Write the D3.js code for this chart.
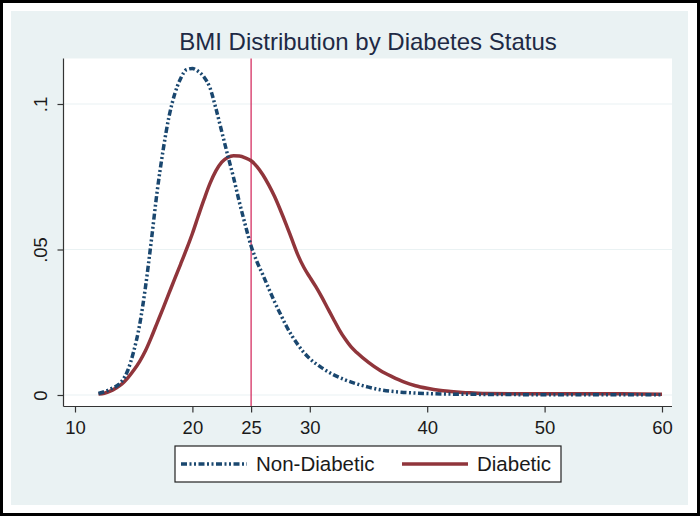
<!DOCTYPE html>
<html>
<head>
<meta charset="utf-8">
<script src="https://cdn.jsdelivr.net/npm/d3@7"></script>
<style>
  html, body { margin: 0; padding: 0; background: #ffffff; }
  svg { display: block; }
  text { font-family: "Liberation Sans", Arial, sans-serif; }
</style>
</head>
<body>
<svg id="chart" width="700" height="516"></svg>
<script>
// ---- data ----
const titleText = "BMI Distribution by Diabetes Status";
const seriesNames = ["Non-Diabetic", "Diabetic"];

const bmiNonDiabetic = [12, 13, 14, 14.5, 15, 15.5, 16, 16.5, 17, 17.5, 18, 18.5, 19, 19.5, 20, 20.5, 21, 21.5, 22, 22.5, 23, 23.5, 24, 24.5, 25, 25.5, 26, 26.5, 27, 27.5, 28, 28.5, 29, 29.5, 30, 31, 32, 33, 34, 35, 36, 38, 40, 42, 45, 50, 55, 60];
const densNonDiabetic = [0.0005, 0.002, 0.0048, 0.0085, 0.015, 0.024, 0.037, 0.053, 0.070, 0.084, 0.0955, 0.1035, 0.1088, 0.1118, 0.1122, 0.1112, 0.1092, 0.1055, 0.0985, 0.0905, 0.0825, 0.0748, 0.0663, 0.0585, 0.0512, 0.0458, 0.0413, 0.0366, 0.0320, 0.0278, 0.0237, 0.0202, 0.0172, 0.0146, 0.0125, 0.0094, 0.007, 0.0052, 0.0038, 0.0027, 0.0018, 0.0009, 0.0005, 0.0003, 0.0002, 0.0001, 0.0001, 0.0001];

const bmiDiabetic = [12, 12.5, 13, 13.5, 14, 14.5, 15, 15.5, 16, 16.5, 17, 17.5, 18, 18.5, 19, 19.5, 20, 20.5, 21, 21.5, 22, 22.5, 23, 23.5, 24, 24.5, 25, 25.5, 26, 26.5, 27, 27.5, 28, 28.5, 29, 29.5, 30, 30.5, 31, 31.5, 32, 32.5, 33, 33.5, 34, 35, 36, 37, 38, 39, 40, 41, 42, 43, 44, 45, 50, 55, 60];
const densDiabetic = [0.0003, 0.0006, 0.0013, 0.0024, 0.0038, 0.0059, 0.0085, 0.0115, 0.0152, 0.0198, 0.0248, 0.0298, 0.0349, 0.0400, 0.0450, 0.0501, 0.0555, 0.0615, 0.0673, 0.0727, 0.0770, 0.0800, 0.0816, 0.0822, 0.0821, 0.0815, 0.0805, 0.0785, 0.0757, 0.0722, 0.0682, 0.0635, 0.0585, 0.0532, 0.0480, 0.0438, 0.0405, 0.0373, 0.0338, 0.0300, 0.0262, 0.0225, 0.0193, 0.0166, 0.0146, 0.0112, 0.0084, 0.0063, 0.0045, 0.0032, 0.0023, 0.0016, 0.0012, 0.0009, 0.0007, 0.0005, 0.0004, 0.0004, 0.0003];

const xTicks = [10, 20, 25, 30, 40, 50, 60];
const yTicks = [0, 0.05, 0.1];
const yTickLabels = ["0", ".05", ".1"];
const refLineX = [25];

// ---- layout ----
const svg = d3.select("#chart");
const W = 700, H = 516;
const plot = { left: 63.5, right: 672, top: 58.5, bottom: 406.5 };

const x = d3.scaleLinear().domain([10, 60]).range([75, 662]);
const y = d3.scaleLinear().domain([0, 0.1]).range([395, 104]);

// outer frame
svg.append("rect").attr("x", 0).attr("y", 0).attr("width", W).attr("height", H).attr("fill", "#ffffff");
svg.append("rect").attr("x", 1.5).attr("y", 1.5).attr("width", W - 3).attr("height", H - 3)
  .attr("fill", "none").attr("stroke", "#000").attr("stroke-width", 3);
// graph region
svg.append("rect").attr("x", 11).attr("y", 11).attr("width", 677).attr("height", 494).attr("fill", "#eaf2f3");
// plot region
svg.append("rect").attr("x", plot.left).attr("y", plot.top)
  .attr("width", plot.right - plot.left).attr("height", plot.bottom - plot.top).attr("fill", "#ffffff");

// gridlines
svg.append("g").selectAll("line").data(yTicks).join("line")
  .attr("x1", plot.left).attr("x2", plot.right)
  .attr("y1", d => y(d)).attr("y2", d => y(d))
  .attr("stroke", "#eaf2f3").attr("stroke-width", 1.2);

// title
svg.append("text").attr("x", 368).attr("y", 50).attr("text-anchor", "middle")
  .attr("font-size", 24).attr("fill", "#1e2a45").text(titleText);

// reference line
svg.append("g").selectAll("line").data(refLineX).join("line")
  .attr("x1", d => x(d)).attr("x2", d => x(d))
  .attr("y1", plot.top).attr("y2", plot.bottom)
  .attr("stroke", "#d11f55").attr("stroke-width", 1.2);

// lines
const lineGen = d3.line().x(d => x(d[0])).y(d => y(d[1])).curve(d3.curveMonotoneX);
const nonData = bmiNonDiabetic.map((b, i) => [b, densNonDiabetic[i]]);
const diaData = bmiDiabetic.map((b, i) => [b, densDiabetic[i]]);

const blue = "#1a476f", red = "#90353b";
const blueDash = "6,2.5,2,2.5,2,2.5";

svg.append("path").datum(diaData).attr("d", lineGen)
  .attr("fill", "none").attr("stroke", red).attr("stroke-width", 3.5).attr("stroke-linejoin", "round");
svg.append("path").datum(nonData).attr("d", lineGen)
  .attr("fill", "none").attr("stroke", blue).attr("stroke-width", 3.5)
  .attr("stroke-dasharray", blueDash);

// axes
const axisColor = "#333333";
const xAxis = svg.append("g").attr("transform", `translate(0,${plot.bottom})`)
  .call(d3.axisBottom(x).tickValues(xTicks).tickSize(6).tickPadding(8).tickFormat(d3.format("d")));
xAxis.select(".domain").remove();
xAxis.append("line").attr("x1", plot.left).attr("x2", plot.right).attr("y1", 0).attr("y2", 0)
  .attr("stroke", axisColor).attr("stroke-width", 1.2);
xAxis.selectAll(".tick line").attr("stroke", axisColor).attr("stroke-width", 1.2);
xAxis.selectAll(".tick text").attr("font-size", 18.5).attr("fill", "#1a1a1a")
  .attr("font-family", "Liberation Sans, Arial, sans-serif");

const yAxis = svg.append("g").attr("transform", `translate(${plot.left},0)`)
  .call(d3.axisLeft(y).tickValues(yTicks).tickSize(6).tickFormat((d, i) => yTickLabels[i]));
yAxis.select(".domain").remove();
yAxis.append("line").attr("x1", 0).attr("x2", 0).attr("y1", plot.top).attr("y2", plot.bottom)
  .attr("stroke", axisColor).attr("stroke-width", 1.2);
yAxis.selectAll(".tick line").attr("stroke", axisColor).attr("stroke-width", 1.2);
yAxis.selectAll(".tick text")
  .attr("x", null).attr("dy", null)
  .attr("transform", "translate(-16.5,0) rotate(-90)")
  .attr("text-anchor", "middle")
  .attr("font-size", 18.5).attr("fill", "#1a1a1a")
  .attr("font-family", "Liberation Sans, Arial, sans-serif");

// legend
const lg = svg.append("g");
lg.append("rect").attr("x", 175).attr("y", 446).attr("width", 386).attr("height", 36)
  .attr("fill", "#ffffff").attr("stroke", "#222").attr("stroke-width", 1.2);
const legendItems = [
  { name: seriesNames[0], color: blue, dash: blueDash, x0: 181, x1: 247, tx: 256 },
  { name: seriesNames[1], color: red, dash: null, x0: 402, x1: 468, tx: 477 }
];
legendItems.forEach(it => {
  lg.append("line").attr("x1", it.x0).attr("x2", it.x1).attr("y1", 464).attr("y2", 464)
    .attr("stroke", it.color).attr("stroke-width", 3.5)
    .attr("stroke-dasharray", it.dash);
  lg.append("text").attr("x", it.tx).attr("y", 471).attr("font-size", 20.5)
    .attr("fill", "#1a1a1a").text(it.name);
});
</script>
</body>
</html>
